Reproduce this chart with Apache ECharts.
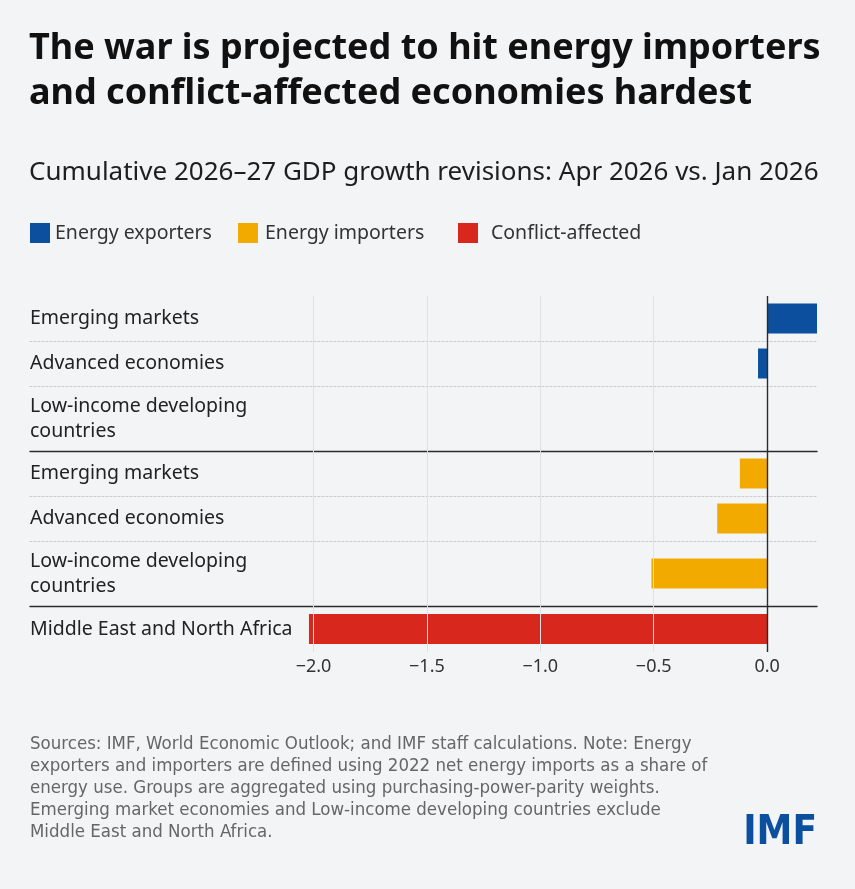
<!DOCTYPE html>
<html>
<head>
<meta charset="utf-8">
<script src="https://cdn.jsdelivr.net/npm/echarts@6/dist/echarts.min.js"></script>
<style>
  html, body { margin: 0; padding: 0; background: #f3f4f6; }
  #echart { width: 855px; height: 889px; }
</style>
</head>
<body>
<div id="echart"></div>
<script>
var dom = document.getElementById("echart");
var myChart = echarts.init(dom);
var option;

// data
let groupNames = ['Energy exporters', 'Energy importers', 'Conflict-affected'];
let groupColors = ['#0b4f9e', '#f2aa00', '#d8271d'];
let exporterLabels = ['Emerging markets', 'Advanced economies', 'Low-income developing\ncountries'];
let exporterValues = [0.22, -0.04, null];
let importerLabels = ['Emerging markets', 'Advanced economies', 'Low-income developing\ncountries'];
let importerValues = [-0.12, -0.22, -0.51];
let conflictLabels = ['Middle East and North Africa'];
let conflictValues = [-2.02];
let tickLabels = [-2.0, -1.5, -1.0, -0.5, 0.0];

let narrow = "'Liberation Sans Narrow', 'DejaVu Sans Condensed', 'Roboto Condensed', Roboto, sans-serif";

let groups = [
    { labels: exporterLabels, values: exporterValues },
    { labels: importerLabels, values: importerValues },
    { labels: conflictLabels, values: conflictValues }
];

// flatten into rows, one grid per row so two-line rows can be taller
let rows = [];
groups.forEach(function (g, gi) {
    g.labels.forEach(function (label, li) {
        rows.push({
            label: label,
            value: g.values[li],
            group: gi,
            lastInGroup: li === g.labels.length - 1
        });
    });
});

let grids = [], xAxes = [], yAxes = [], series = [];
let rowTop = 296;
rows.forEach(function (r, i) {
    let isLast = i === rows.length - 1;
    let h = r.label.indexOf('\n') >= 0 ? 65 : 45;
    if (isLast) h = 46;
    grids.push({ left: 30, width: 787, top: rowTop, height: h });
    rowTop += h;

    xAxes.push({
        gridIndex: i,
        type: 'value',
        min: -3.25,
        max: 0.22,
        interval: 0.25,
        splitLine: { show: false },
        axisTick: { show: false },
        axisLine: {
            show: !isLast,
            onZero: false,
            lineStyle: r.lastInGroup
                ? { color: '#2b2b2b', width: 1.4, type: 'solid' }
                : { color: '#c9cacc', width: 1, type: [2, 2] }
        },
        axisLabel: {
            show: isLast,
            margin: 6,
            fontSize: 18,
            color: '#333',
            fontFamily: 'Noto Sans',
            formatter: function (v) {
                if (tickLabels.indexOf(v) < 0) return '';
                return v.toFixed(1).replace('-', '\u2212');
            }
        }
    });

    yAxes.push({
        gridIndex: i,
        type: 'category',
        data: [r.label],
        axisLine: { show: false },
        axisTick: { show: false },
        axisLabel: {
            inside: true,
            margin: 0,
            fontSize: 19.5,
            lineHeight: 25,
            color: '#222',
            fontFamily: 'Noto Sans'
        }
    });

    let lines = tickLabels.map(function (t) {
        return {
            xAxis: t,
            lineStyle: t === 0
                ? { color: '#2b2b2b', width: 1.4, type: 'solid' }
                : { color: '#e0e1e3', width: 1, type: 'solid' }
        };
    });

    series.push({
        name: groupNames[r.group],
        type: 'bar',
        xAxisIndex: i,
        yAxisIndex: i,
        barWidth: 30,
        data: [r.value],
        itemStyle: { color: groupColors[r.group] },
        markLine: {
            silent: true,
            symbol: 'none',
            label: { show: false },
            data: lines
        }
    });
});

// one legend per group so each item sits where the reference puts it
let legendLefts = [30, 238, 458];
let legendPads = [0, 2, 8];
let legends = groupNames.map(function (name, k) {
    return {
        data: [name],
        left: legendLefts[k],
        top: 223,
        padding: 0,
        icon: 'rect',
        itemWidth: 20,
        itemHeight: 20,
        selectedMode: false,
        textStyle: {
            fontSize: 19.5,
            color: '#333',
            fontFamily: 'Noto Sans',
            padding: [0, 0, 0, legendPads[k]]
        }
    };
});

option = {
    backgroundColor: '#f3f4f6',
    animation: false,
    title: [
        {
            text: 'The war is projected to hit energy importers\nand conflict-affected economies hardest',
            left: 29,
            top: 26,
            padding: 0,
            textStyle: {
                fontSize: 36,
                fontWeight: 'bold',
                lineHeight: 45,
                color: '#111',
                fontFamily: 'Noto Sans'
            }
        },
        {
            text: 'Cumulative 2026\u201327 GDP growth revisions: Apr 2026 vs. Jan 2026',
            left: 29,
            top: 160,
            padding: 0,
            textStyle: {
                fontSize: 26,
                fontWeight: 'normal',
                color: '#1e1e1e',
                fontFamily: 'Noto Sans'
            }
        },
        {
            text: 'Sources: IMF, World Economic Outlook; and IMF staff calculations. Note: Energy\n' +
                'exporters and importers are defined using 2022 net energy imports as a share of\n' +
                'energy use. Groups are aggregated using purchasing-power-parity weights.\n' +
                'Emerging market economies and Low-income developing countries exclude\n' +
                'Middle East and North Africa.',
            left: 30,
            top: 733,
            padding: 0,
            textStyle: {
                fontSize: 18.5,
                fontWeight: 'normal',
                lineHeight: 22,
                color: '#666',
                fontFamily: narrow
            }
        },
        {
            text: 'IMF',
            right: 38,
            top: 814,
            padding: 0,
            textStyle: {
                fontSize: 40,
                fontWeight: 'bold',
                color: '#0b4f9e',
                fontFamily: narrow
            }
        }
    ],
    legend: legends,
    grid: grids,
    xAxis: xAxes,
    yAxis: yAxes,
    series: series
};

myChart.setOption(option);
</script>
</body>
</html>
